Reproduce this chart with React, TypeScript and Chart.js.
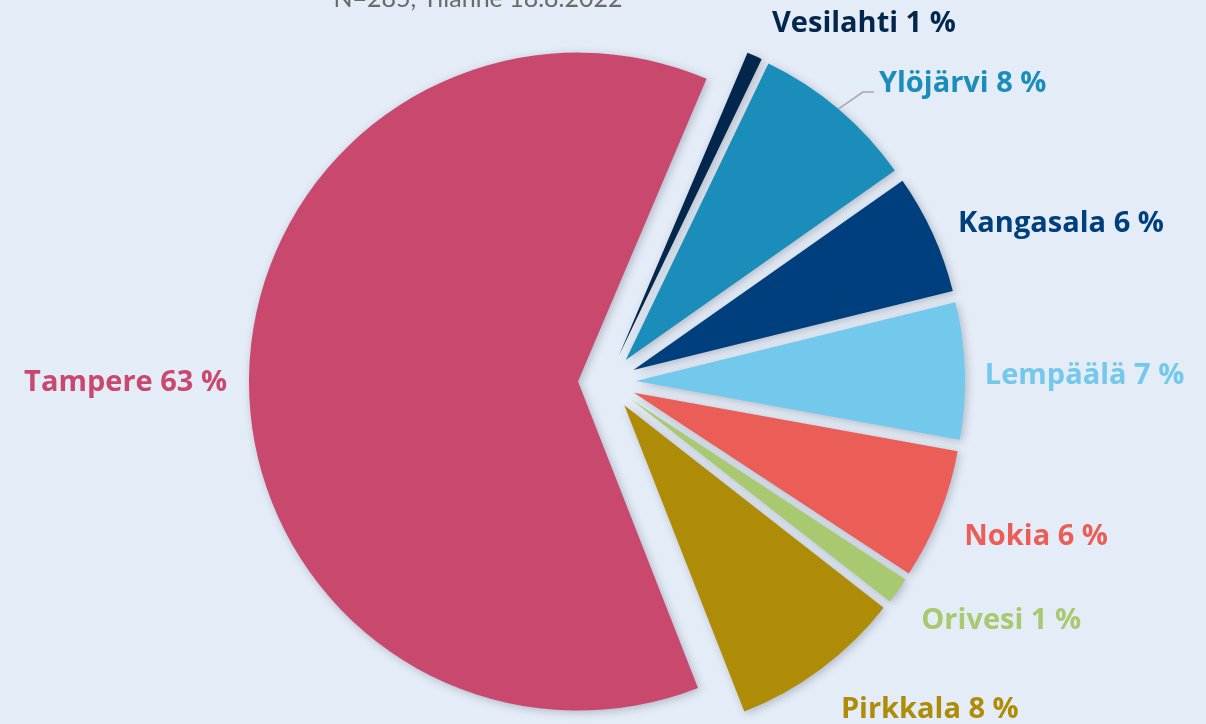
import React, { useEffect, useRef } from "react";
import { Chart, registerables } from "chart.js";

Chart.register(...registerables);

const CATEGORIES = ["Vesilahti", "Ylöjärvi", "Kangasala", "Lempäälä", "Nokia", "Orivesi", "Pirkkala", "Tampere"];
const SHARES = [0.75, 8.1, 5.9, 6.7, 6.4, 1.3, 8.5, 62.3];
const PCT_LABELS = [1, 8, 6, 7, 6, 1, 8, 63];
const COLORS = ["#03264C", "#1A8DBA", "#003F7D", "#72C9EC", "#EB5E57", "#A9C971", "#AE8C08", "#C9496E"];
const TITLE = "N=285, Tilanne 18.8.2022";
const LEADER = [false, true, false, false, false, false, false, false];
// label nudges (px) from the bisector anchor
const LABEL_NUDGE: [number, number][] = [
  [5, -5], [21, -2], [-2, 3], [-10, 6], [-3, 11], [-1, 13], [2, 17], [8, 6],
];

const R = 329;
const OFFSET = 116; // Chart.js translates offset/4
const LABEL_R = R + 59;
const BG = "#E4ECF7";

export default function App() {
  const ref = useRef<HTMLCanvasElement | null>(null);
  useEffect(() => {
    if (!ref.current) return;
    const pieFx = {
      id: "pieFx",
      afterDatasetsUpdate(chart: any) {
        const meta = chart.getDatasetMeta(0);
        const d = OFFSET / 4;
        meta.data.forEach((el: any) => {
          const circ = el.circumference;
          const fix = 1 - Math.sin(Math.min(Math.PI, circ || 0));
          const radOff = d * fix;
          el.outerRadius = R - radOff;
          // undo Chart.js' angular trimming of offset arcs (pure translation explode)
          const ao = radOff / (2 * Math.PI * R);
          el.startAngle -= ao;
          el.endAngle += ao;
        });
      },
      beforeDatasetsDraw(chart: any) {
        const ctx = chart.ctx;
        ctx.save();
        ctx.shadowColor = "rgba(40,50,70,0.28)";
        ctx.shadowBlur = 9;
        ctx.shadowOffsetX = 2;
        ctx.shadowOffsetY = 2;
      },
      afterDatasetsDraw(chart: any) {
        const ctx = chart.ctx;
        ctx.restore();
        const meta = chart.getDatasetMeta(0);
        ctx.save();
        ctx.font = '25px "Lato"';
        ctx.fillStyle = "#6A6A6A";
        ctx.textAlign = "center";
        ctx.textBaseline = "alphabetic";
        ctx.fillText(TITLE, 478, 7);

        meta.data.forEach((el: any, i: number) => {
          const a = (el.startAngle + el.endAngle) / 2;
          const cx = el.x, cy = el.y;
          const [nx, ny] = LABEL_NUDGE[i];
          const lx = cx + LABEL_R * Math.cos(a) + nx;
          const ly = cy + LABEL_R * Math.sin(a) + ny;
          const txt = `${CATEGORIES[i]} ${PCT_LABELS[i]} %`;
          ctx.font = 'bold 29px "Open Sans"';
          ctx.fillStyle = COLORS[i];
          ctx.textBaseline = "middle";
          ctx.textAlign = Math.cos(a) < 0 ? "right" : "left";
          ctx.fillText(txt, lx, ly);
          if (LEADER[i]) {
            const d = OFFSET / 4;
            const sx = cx + (R + d) * Math.cos(a);
            const sy = cy + (R + d) * Math.sin(a);
            const by = ly + 8;
            ctx.beginPath();
            ctx.strokeStyle = "#A6A6A6";
            ctx.lineWidth = 1.5;
            ctx.moveTo(sx, sy);
            ctx.lineTo(lx - 16, by);
            ctx.lineTo(lx - 5, by);
            ctx.stroke();
          }
        });
        ctx.restore();
      },
    };
    const chart = new Chart(ref.current, {
      type: "pie",
      data: {
        labels: CATEGORIES,
        datasets: [
          {
            data: SHARES,
            backgroundColor: COLORS,
            borderWidth: 0,
            offset: OFFSET,
            hoverOffset: OFFSET,
          },
        ],
      },
      options: {
        animation: false,
        responsive: true,
        maintainAspectRatio: false,
        rotation: 23.0,
        radius: R,
        layout: { padding: { left: 8, right: 0, top: 40, bottom: 0 } },
        plugins: { legend: { display: false }, tooltip: { enabled: false } },
        events: [],
      } as any,
      plugins: [pieFx],
    });
    return () => chart.destroy();
  }, []);
  return (
    <div style={{ position: "fixed", left: 0, top: 0, width: 1206, height: 724, background: BG }}>
      <canvas ref={ref} />
    </div>
  );
}
